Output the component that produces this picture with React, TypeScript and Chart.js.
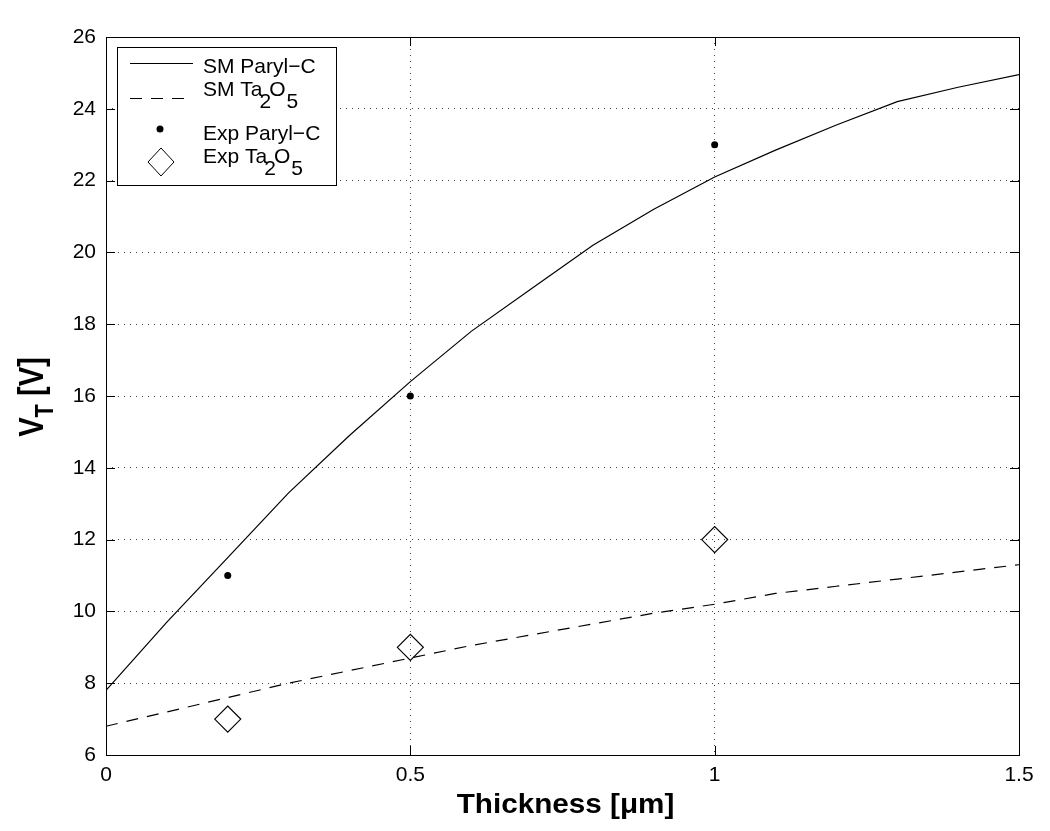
import React, { useEffect, useRef } from "react";
import { Chart, registerables } from "chart.js";
Chart.register(...registerables);

const thickness = [0, 0.1, 0.2, 0.3, 0.4, 0.5, 0.6, 0.7, 0.8, 0.9, 1.0, 1.1, 1.2, 1.3, 1.4, 1.5];
const smParylC = [7.8, 9.7, 11.5, 13.3, 14.9, 16.4, 17.8, 19.0, 20.2, 21.2, 22.1, 22.85, 23.55, 24.2, 24.6, 24.95];
const smTa2O5 = [6.8, 7.2, 7.6, 8.0, 8.35, 8.7, 9.05, 9.35, 9.65, 9.95, 10.2, 10.5, 10.7, 10.9, 11.1, 11.3];
const expX = [0.2, 0.5, 1.0];
const expParylC = [11, 16, 23];
const expTa2O5 = [7, 9, 12];
const xTicks = [0, 0.5, 1, 1.5];
const yTicks = [6, 8, 10, 12, 14, 16, 18, 20, 22, 24, 26];

const FONT = "'Liberation Sans', Arial, Helvetica, sans-serif";

const overlay = {
  id: "matlabOverlay",
  afterDraw(chart: any) {
    const { ctx, chartArea: a, scales } = chart;
    const xs = scales.x, ys = scales.y;
    ctx.save();
    ctx.strokeStyle = "#000";
    ctx.lineWidth = 1;
    // inward ticks
    ctx.beginPath();
    for (const v of xTicks) {
      const px = Math.round(xs.getPixelForValue(v)) + 0.5;
      ctx.moveTo(px, a.bottom); ctx.lineTo(px, a.bottom - 9);
      ctx.moveTo(px, a.top); ctx.lineTo(px, a.top + 9);
    }
    for (const v of yTicks) {
      const py = Math.round(ys.getPixelForValue(v)) + 0.5;
      ctx.moveTo(a.left, py); ctx.lineTo(a.left + 9, py);
      ctx.moveTo(a.right, py); ctx.lineTo(a.right - 9, py);
    }
    ctx.stroke();
    // box
    ctx.strokeRect(Math.round(a.left) + 0.5, Math.round(a.top) + 0.5, Math.round(a.right - a.left), Math.round(a.bottom - a.top));

    // legend
    const lx = 117, ly = 47, lw = 219, lh = 138;
    ctx.fillStyle = "#fff";
    ctx.fillRect(lx, ly, lw, lh);
    ctx.strokeRect(lx + 0.5, ly + 0.5, lw, lh);
    ctx.fillStyle = "#000";
    ctx.textBaseline = "alphabetic";
    ctx.textAlign = "left";
    const big = `21px ${FONT}`;
    ctx.font = big;
    // row 1
    ctx.beginPath(); ctx.setLineDash([]);
    ctx.moveTo(130, 63.5); ctx.lineTo(193, 63.5); ctx.stroke();
    ctx.fillText("SM Paryl\u2212C", 203, 73);
    // row 2
    ctx.beginPath(); ctx.setLineDash([12, 9]);
    ctx.moveTo(130, 98.5); ctx.lineTo(193, 98.5); ctx.stroke();
    ctx.setLineDash([]);
    const drawTa = (x: number, y: number, pre: string) => {
      ctx.font = big;
      ctx.fillText(pre + "Ta", x, y);
      let cx = x + ctx.measureText(pre + "Ta").width - 3;
      ctx.fillText("2", cx, y + 12);
      cx += ctx.measureText("2").width - 2;
      ctx.fillText("O", cx, y);
      cx += ctx.measureText("O").width + 1;
      ctx.fillText("5", cx, y + 12);
    };
    drawTa(203, 96, "SM ");
    // row 3
    ctx.beginPath(); ctx.arc(160, 129, 3.5, 0, Math.PI * 2); ctx.fill();
    ctx.fillText("Exp Paryl\u2212C", 203, 140);
    // row 4
    ctx.beginPath();
    ctx.moveTo(161, 148); ctx.lineTo(174, 162); ctx.lineTo(161, 176); ctx.lineTo(148, 162); ctx.closePath();
    ctx.stroke();
    drawTa(203, 163, "Exp ");

    // axis titles
    ctx.font = `bold 28px ${FONT}`;
    ctx.textAlign = "center";
    ctx.save();
    ctx.translate((a.left + a.right) / 2 + 3, 813);
    ctx.scale(1.06, 1);
    ctx.fillText("Thickness [\u03bcm]", 0, 0);
    ctx.restore();

    ctx.save();
    ctx.translate(43, 397);
    ctx.rotate(-Math.PI / 2);
    ctx.scale(1.04, 1.22);
    ctx.textAlign = "left";
    const w1 = ctx.measureText("V").width;
    ctx.font = `bold 21px ${FONT}`;
    const w2 = ctx.measureText("T").width;
    ctx.font = `bold 28px ${FONT}`;
    const w3 = ctx.measureText(" [V]").width;
    const total = w1 + w2 + w3;
    let sx = -total / 2;
    ctx.fillText("V", sx, 0); sx += w1;
    ctx.font = `bold 21px ${FONT}`;
    ctx.fillText("T", sx, 8); sx += w2;
    ctx.font = `bold 28px ${FONT}`;
    ctx.fillText(" [V]", sx, 0);
    ctx.restore();
    ctx.restore();
  },
};

export default function App() {
  const ref = useRef<HTMLCanvasElement>(null);
  useEffect(() => {
    document.body.style.margin = "0";
    const chart = new Chart(ref.current!, {
      type: "scatter",
      data: {
        datasets: [
          {
            label: "SM Paryl-C",
            data: thickness.map((x, i) => ({ x, y: smParylC[i] })),
            showLine: true, borderColor: "#000", borderWidth: 1.2, pointRadius: 0, tension: 0,
          },
          {
            label: "SM Ta2O5",
            data: thickness.map((x, i) => ({ x, y: smTa2O5[i] })),
            showLine: true, borderColor: "#000", borderWidth: 1.2, borderDash: [12, 9], pointRadius: 0, tension: 0,
          },
          {
            label: "Exp Paryl-C",
            data: expX.map((x, i) => ({ x, y: expParylC[i] })),
            showLine: false, pointRadius: 3.5, pointBackgroundColor: "#000", pointBorderColor: "#000", pointBorderWidth: 0,
          },
          {
            label: "Exp Ta2O5",
            data: expX.map((x, i) => ({ x, y: expTa2O5[i] })),
            showLine: false, pointStyle: "rectRot", pointRadius: 13, pointBackgroundColor: "rgba(255,255,255,0)",
            pointBorderColor: "#000", pointBorderWidth: 1.2,
          },
        ],
      },
      options: {
        animation: false,
        responsive: false,
        maintainAspectRatio: false,
        layout: { padding: { left: 0, top: 37, right: 31, bottom: 0 } },
        plugins: { legend: { display: false }, tooltip: { enabled: false } },
        scales: {
          x: {
            type: "linear", min: 0, max: 1.5,
            afterFit: (s: any) => { s.height = 76; },
            afterBuildTicks: (s: any) => { s.ticks = xTicks.map((v) => ({ value: v })); },
            ticks: {
              color: "#000", font: { family: FONT, size: 21 }, padding: 8, maxRotation: 0,
              callback: (v: any) => String(v),
            },
            grid: {
              drawTicks: false, color: (c: any) => (c.tick && (c.tick.value === 0 || c.tick.value === 1.5) ? "rgba(0,0,0,0)" : "#444"),
              lineWidth: 1,
            },
            border: { display: false, dash: [1, 5] },
          },
          y: {
            type: "linear", min: 6, max: 26,
            afterFit: (s: any) => { s.width = 106; },
            afterBuildTicks: (s: any) => { s.ticks = yTicks.map((v) => ({ value: v })); },
            ticks: { color: "#000", font: { family: FONT, size: 21 }, padding: 10, callback: (v: any) => String(v) },
            grid: {
              drawTicks: false, color: (c: any) => (c.tick && (c.tick.value === 6 || c.tick.value === 26) ? "rgba(0,0,0,0)" : "#444"),
              lineWidth: 1,
            },
            border: { display: false, dash: [1, 5] },
          },
        },
      },
      plugins: [overlay],
    });
    return () => chart.destroy();
  }, []);
  return (
    <div style={{ position: "absolute", left: 0, top: 0, width: 1050, height: 831, background: "#fff" }}>
      <canvas ref={ref} width={1050} height={831} style={{ width: 1050, height: 831 }} />
    </div>
  );
}
